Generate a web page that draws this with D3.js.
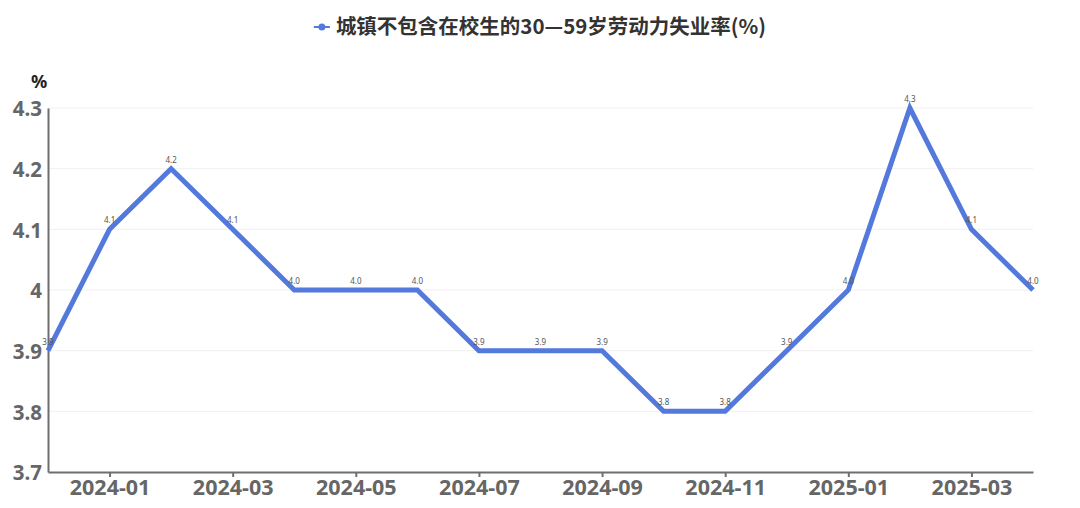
<!DOCTYPE html>
<html><head><meta charset="utf-8">
<script src="https://cdn.jsdelivr.net/npm/d3@7"></script>
<style>body{margin:0;background:#fff;}svg{display:block;font-family:"Noto Sans CJK SC","Noto Sans",sans-serif;}</style>
</head><body><svg id="c" width="1080" height="508"></svg>
<script>
const months = ["2023-12","2024-01","2024-02","2024-03","2024-04","2024-05","2024-06","2024-07","2024-08","2024-09","2024-10","2024-11","2024-12","2025-01","2025-02","2025-03","2025-04"];
const rates = [3.9,4.1,4.2,4.1,4.0,4.0,4.0,3.9,3.9,3.9,3.8,3.8,3.9,4.0,4.3,4.1,4.0];
const xTickLabels = ["2024-01","2024-03","2024-05","2024-07","2024-09","2024-11","2025-01","2025-03"];
const yTicks = [3.7,3.8,3.9,4.0,4.1,4.2,4.3];
const seriesName = "城镇不包含在校生的30—59岁劳动力失业率(%)";
const unit = "%";

const svg = d3.select("#c");
const W=1080,H=508, m={l:48,r:47,t:108,b:36};
const color="#5479dc";
const x = d3.scalePoint().domain(months).range([m.l, W-m.r]);
const y = d3.scaleLinear().domain([3.7,4.3]).range([H-m.b, m.t]);

// grid
svg.append("g").selectAll("line").data(yTicks.slice(1)).join("line")
  .attr("x1",m.l).attr("x2",W-m.r).attr("y1",d=>y(d)).attr("y2",d=>y(d))
  .attr("stroke","#f0f0f0").attr("stroke-width",1);

// y axis
const ya = svg.append("g").attr("transform",`translate(${m.l},0)`)
  .call(d3.axisLeft(y).tickValues(yTicks).tickSize(0).tickPadding(6).tickFormat(d=>d===4?"4":d3.format(".1f")(d)));
ya.select(".domain").attr("stroke","#6e6e6e").attr("stroke-width",2);
ya.selectAll("text").attr("font-size",20.5).attr("font-weight","bold").attr("fill","#666").attr("font-family","'Noto Sans',sans-serif").attr("dy","0.38em");

// x axis
const xa = svg.append("g").attr("transform",`translate(0,${H-m.b})`)
  .call(d3.axisBottom(x).tickValues(xTickLabels).tickSize(5).tickPadding(3).tickSizeOuter(0));
xa.select(".domain").attr("stroke","#6e6e6e").attr("stroke-width",2);
xa.selectAll(".tick line").attr("stroke","#6e6e6e").attr("stroke-width",2);
xa.selectAll("text").attr("font-size",21.5).attr("font-weight","bold").attr("fill","#666").attr("font-family","'Noto Sans',sans-serif");

// unit
svg.append("text").attr("x",39).attr("y",88).attr("text-anchor","middle")
  .attr("font-size",18).attr("font-weight","bold").attr("fill","#222").attr("font-family","'Noto Sans',sans-serif").text(unit);

// line
const data = months.map((mo,i)=>({mo,v:rates[i]}));
svg.append("path").datum(data)
  .attr("fill","none").attr("stroke",color).attr("stroke-width",5).attr("stroke-linejoin","miter")
  .attr("d", d3.line().x(d=>x(d.mo)).y(d=>y(d.v)));

// point labels
svg.append("g").selectAll("text").data(data).join("text")
  .attr("x",d=>x(d.mo)).attr("y",d=>y(d.v)-6).attr("text-anchor","middle")
  .attr("font-size",8).attr("fill","#555").attr("font-family","'Noto Sans',sans-serif")
  .text(d=>d3.format(".1f")(d.v));

// legend
const lg = svg.append("g");
const lt = lg.append("text").attr("x",336).attr("y",34).attr("font-size",20.5).attr("font-weight","bold").attr("fill","#333").text(seriesName);
const tw = lt.node().getComputedTextLength();
const lx = (W - (tw + 22))/2;
lt.attr("x", lx+22);
lg.append("line").attr("x1",lx).attr("x2",lx+16).attr("y1",27).attr("y2",27).attr("stroke",color).attr("stroke-width",2);
lg.append("circle").attr("cx",lx+8).attr("cy",27).attr("r",3.5).attr("fill",color);
</script></body></html>
